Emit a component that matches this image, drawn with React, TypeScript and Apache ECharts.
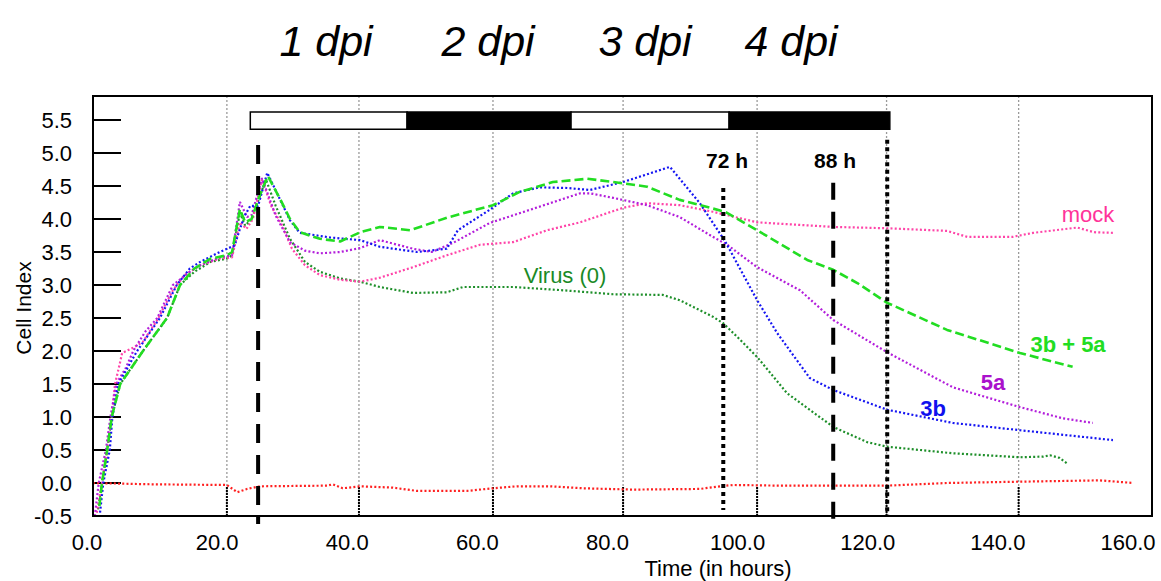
import React, { useEffect, useRef } from "react";
import * as echarts from "echarts";

// ---- data (hours, Cell Index) ----
const mock: [number, number][] = [
  [1.5, -0.45], [2.3, 0.0], [3.2, 0.5], [3.8, 1.0], [4.3, 1.5], [4.9, 1.75], [5.4, 1.97], [7.1, 2.05], [8.6, 2.14],
  [10.8, 2.47], [13.2, 2.92], [15.0, 3.15], [17.4, 3.3], [20.4, 3.4], [22.3, 3.42], [23.5, 3.95], [24.5, 3.85],
  [25.5, 4.0], [26.9, 4.6], [28.3, 4.2], [30.0, 3.9], [31.5, 3.55], [33.5, 3.3], [35.8, 3.15], [38.9, 3.08],
  [42.0, 3.05], [45.0, 3.11], [50.1, 3.27], [55.3, 3.45], [60.4, 3.61], [65.5, 3.65], [70.7, 3.83], [75.8, 3.95],
  [82.4, 4.17], [86.1, 4.24], [91.1, 4.21], [96.2, 4.11], [103.0, 3.95], [114.7, 3.88], [123.0, 3.86],
  [132.2, 3.82], [135.3, 3.73], [142.3, 3.73], [145.4, 3.79], [152.2, 3.87], [154.8, 3.8], [158.0, 3.79],
];
const s5a: [number, number][] = [
  [1.2, -0.5], [1.8, 0.0], [2.9, 0.5], [3.6, 1.0], [4.5, 1.5], [6.0, 1.75], [7.1, 2.0], [9.0, 2.3], [10.8, 2.5],
  [13.2, 3.0], [15.8, 3.2], [17.4, 3.3], [20.4, 3.42], [22.3, 3.45], [23.5, 4.26], [24.6, 4.03], [25.3, 4.06],
  [26.9, 4.62], [29.0, 4.05], [31.2, 3.65], [33.5, 3.52], [35.8, 3.48], [38.9, 3.5], [42.0, 3.56], [45.0, 3.68],
  [50.1, 3.55], [53.0, 3.5], [56.3, 3.64], [61.9, 3.94], [68.1, 4.14], [75.8, 4.39], [77.3, 4.39], [80.9, 4.32],
  [86.1, 4.21], [91.1, 4.03], [96.2, 3.73], [98.4, 3.61], [103.0, 3.27], [109.6, 2.92], [114.7, 2.47],
  [123.0, 1.98], [133.1, 1.45], [143.4, 1.15], [150.0, 0.98], [154.6, 0.91],
];
const s3b: [number, number][] = [
  [2.0, -0.45], [2.5, 0.0], [3.5, 0.5], [3.9, 1.0], [4.8, 1.5], [7.7, 2.0], [11.2, 2.5], [13.8, 3.0], [15.8, 3.25],
  [17.4, 3.35], [20.4, 3.5], [22.7, 3.6], [23.5, 3.85], [24.3, 4.06], [25.1, 4.2], [26.3, 4.2], [27.7, 4.7],
  [29.7, 4.29], [31.2, 3.98], [32.7, 3.79], [37.4, 3.72], [42.0, 3.68], [45.0, 3.58], [50.7, 3.5], [55.3, 3.55],
  [57.0, 3.83], [61.9, 4.14], [65.5, 4.39], [69.6, 4.48], [73.8, 4.47], [77.3, 4.44], [82.4, 4.56], [89.6, 4.79],
  [94.2, 4.24], [98.1, 3.66], [103.0, 2.77], [106.1, 2.27], [111.1, 1.59], [114.7, 1.41], [123.0, 1.11],
  [133.1, 0.91], [143.4, 0.8], [157.7, 0.65],
];
const s3b5a: [number, number][] = [
  [1.9, -0.35], [2.3, 0.0], [3.1, 0.5], [3.8, 1.0], [5.1, 1.5], [8.6, 2.0], [12.3, 2.5], [14.3, 3.0], [16.5, 3.25],
  [19.0, 3.4], [21.5, 3.45], [22.3, 3.5], [23.5, 4.15], [24.3, 3.95], [25.3, 4.0], [26.5, 4.35], [27.8, 4.65],
  [29.7, 4.3], [31.2, 4.0], [32.7, 3.8], [35.8, 3.7], [38.9, 3.66], [42.0, 3.8], [45.0, 3.88], [49.7, 3.83],
  [55.3, 4.02], [62.4, 4.21], [66.5, 4.41], [71.6, 4.56], [76.9, 4.61], [80.9, 4.56], [86.1, 4.49], [91.1, 4.29],
  [98.1, 4.11], [103.0, 3.83], [110.7, 3.38], [114.7, 3.23], [118.4, 3.03], [123.0, 2.73], [132.2, 2.32],
  [143.4, 1.97], [151.5, 1.76],
];
const virus: [number, number][] = [
  [1.7, -0.4], [2.3, 0.0], [3.1, 0.5], [3.8, 1.0], [5.1, 1.5], [8.6, 2.0], [12.3, 2.5], [14.3, 3.0], [16.5, 3.2],
  [19.0, 3.35], [21.5, 3.4], [22.3, 3.45], [23.5, 4.1], [24.3, 3.9], [25.3, 4.0], [27.5, 4.6], [29.0, 4.2],
  [31.2, 3.7], [33.5, 3.35], [35.8, 3.2], [38.9, 3.1], [42.0, 3.05], [45.0, 2.97], [50.1, 2.88], [55.3, 2.89],
  [57.8, 2.97], [65.5, 2.97], [73.2, 2.92], [80.9, 2.86], [88.5, 2.85], [91.1, 2.77], [96.2, 2.52], [97.8, 2.42],
  [100.4, 2.17], [103.0, 1.91], [107.6, 1.36], [114.7, 0.85], [119.9, 0.62], [123.0, 0.55], [133.1, 0.45],
  [143.4, 0.39], [147.0, 0.4], [148.0, 0.42], [149.5, 0.38], [150.6, 0.3],
];
const baseline: [number, number][] = [
  [0.9, 0.0], [10.0, -0.02], [21.5, -0.03], [23.1, -0.14], [24.6, -0.09], [26.6, -0.05], [36.9, -0.04],
  [37.8, -0.02], [39.3, -0.08], [42.0, -0.05], [47.0, -0.07], [50.7, -0.12], [58.4, -0.12], [62.4, -0.08],
  [66.1, -0.05], [71.2, -0.05], [76.2, -0.08], [83.9, -0.1], [94.2, -0.09], [97.3, -0.05], [99.3, -0.03],
  [106.5, -0.04], [123.0, -0.04], [132.2, 0.0], [143.3, 0.02], [155.7, 0.04], [160.8, 0.0],
];

// vertical step lines (hours)
const stepTimes = [21.5, 41.8, 62.4, 82.4, 103.0, 122.9, 143.2];
// marker lines (hours) and their labels
const markerTimes = [26.3, 97.8, 114.7, 123.0];
const markerLabels = ["", "72 h", "88 h", ""];
// day / night bar: [start h, end h, dark?]
const barSegments: [number, number, number][] = [
  [25.1, 49.2, 0], [49.2, 74.4, 1], [74.4, 98.7, 0], [98.7, 123.4, 1],
];
const dpiLabels = ["1 dpi", "2 dpi", "3 dpi", "4 dpi"];
const seriesNames = ["mock", "3b + 5a", "5a", "3b", "Virus (0)"];

// ---- layout / style ----
const FONT = "'Liberation Sans', Arial, Helvetica, sans-serif";
const Y_MIN = -0.5;
const Y_MAX = 5.864;
const markerStyle = [
  { top: 5.12, bottom: -0.62, dash: [19, 12] },
  { top: 4.47, bottom: -0.41, dash: [4, 4] },
  { top: 4.55, bottom: -0.7, dash: [17, 12] },
  { top: 5.2, bottom: -0.5, dash: [4, 3.5] },
];
const dpiX = [326, 488, 645, 791];
const markerLabelX = [0, 727, 835, 0];
const nameLayout = [
  { x: 1088, y: 214, color: "#FF3399", weight: "normal" },
  { x: 1068, y: 344, color: "#22DD22", weight: "bold" },
  { x: 993, y: 382, color: "#AA11CC", weight: "bold" },
  { x: 933, y: 408, color: "#1010EE", weight: "bold" },
  { x: 565, y: 275, color: "#1A8A26", weight: "normal" },
];

export default function App() {
  const ref = useRef<HTMLDivElement>(null);
  useEffect(() => {
    if (!ref.current) return;
    const chart = echarts.init(ref.current, undefined, { renderer: "svg" });

    const dotted = (name: string, data: [number, number][], color: string, dash: number[] = [2, 2.2], width = 2.2) => ({
      name,
      type: "line",
      xAxisIndex: 0,
      yAxisIndex: 0,
      data,
      showSymbol: false,
      symbol: "none",
      z: 2,
      lineStyle: { color, width, type: dash },
    });

    const graphic: any[] = [];
    dpiLabels.forEach((t, i) =>
      graphic.push({
        type: "text",
        x: dpiX[i],
        y: 41,
        style: { text: t, font: `italic 43px ${FONT}`, fill: "#000", align: "center", verticalAlign: "middle" },
      })
    );
    markerLabels.forEach((t, i) => {
      if (!t) return;
      graphic.push({
        type: "text",
        x: markerLabelX[i],
        y: 160,
        style: { text: t, font: `bold 21px ${FONT}`, fill: "#000", align: "center", verticalAlign: "middle" },
      });
    });
    seriesNames.forEach((t, i) => {
      const l = nameLayout[i];
      graphic.push({
        type: "text",
        x: l.x,
        y: l.y,
        z: 10,
        style: { text: t, font: `${l.weight} 22px ${FONT}`, fill: l.color, align: "center", verticalAlign: "middle" },
      });
    });
    graphic.push({
      type: "text",
      x: 23,
      y: 308,
      rotation: Math.PI / 2,
      style: { text: "Cell Index", font: `21px ${FONT}`, fill: "#000", align: "center", verticalAlign: "middle" },
    });
    graphic.push({
      type: "text",
      x: 718,
      y: 568,
      style: { text: "Time (in hours)", font: `22px ${FONT}`, fill: "#000", align: "center", verticalAlign: "middle" },
    });

    chart.setOption({
      animation: false,
      backgroundColor: "#fff",
      textStyle: { fontFamily: FONT },
      grid: [
        { left: 93, top: 96, width: 1059, height: 420, show: true, borderColor: "#000", borderWidth: 2, backgroundColor: "transparent", z: 5 },
        { left: 87, top: 96, width: 1041, height: 420, show: false },
      ],
      xAxis: [
        {
          gridIndex: 0, type: "value", min: 0.92, max: 163.7,
          axisLine: { show: false }, axisTick: { show: false }, axisLabel: { show: false }, splitLine: { show: false },
        },
        {
          gridIndex: 1, type: "value", min: 0, max: 160, interval: 20,
          axisLine: { show: false }, axisTick: { show: false }, splitLine: { show: false },
          axisLabel: { formatter: (v: number) => v.toFixed(1), fontSize: 22, color: "#000", margin: 15, fontFamily: FONT },
        },
      ],
      yAxis: [
        {
          gridIndex: 0, type: "value", min: Y_MIN, max: Y_MAX, interval: 0.5,
          axisLine: { show: false },
          axisTick: { inside: true, length: 28, lineStyle: { color: "#000", width: 2 } },
          axisLabel: { formatter: (v: number) => v.toFixed(1), fontSize: 22, color: "#000", margin: 21, showMaxLabel: false, fontFamily: FONT },
          splitLine: { show: false },
        },
        { gridIndex: 1, type: "value", min: Y_MIN, max: Y_MAX, show: false },
      ],
      graphic,
      series: [
        {
          type: "custom",
          xAxisIndex: 0,
          yAxisIndex: 0,
          z: 1,
          silent: true,
          data: stepTimes.map((t) => [t, Y_MIN]),
          renderItem: (_p: any, api: any) => {
            const t = api.value(0);
            const top = api.coord([t, Y_MAX]);
            const bot = api.coord([t, Y_MIN]);
            const tickTop = api.coord([t, Y_MIN + 0.44]);
            return {
              type: "group",
              children: [
                { type: "line", shape: { x1: top[0], y1: top[1], x2: bot[0], y2: bot[1] }, style: { stroke: "#9a9a9a", lineWidth: 1.3, lineDash: [2, 2] } },
                { type: "line", shape: { x1: bot[0], y1: bot[1], x2: tickTop[0], y2: tickTop[1] }, style: { stroke: "#000", lineWidth: 2, lineDash: [2, 1] } },
              ],
            };
          },
        },
        dotted("baseline", baseline, "#FF2020"),
        dotted(seriesNames[4], virus, "#1E8F2A"),
        dotted(seriesNames[0], mock, "#FF44A8"),
        dotted(seriesNames[2], s5a, "#B31EDB"),
        dotted(seriesNames[3], s3b, "#1515F2"),
        dotted(seriesNames[1], s3b5a, "#22DD22", [9, 4], 2.6),
        {
          type: "custom",
          xAxisIndex: 0,
          yAxisIndex: 0,
          z: 6,
          silent: true,
          data: barSegments,
          renderItem: (_p: any, api: any) => {
            const a = api.coord([api.value(0), 5.62]);
            const b = api.coord([api.value(1), 5.36]);
            const dark = api.value(2) === 1;
            return {
              type: "rect",
              shape: { x: a[0], y: a[1], width: b[0] - a[0], height: b[1] - a[1] },
              style: { fill: dark ? "#000" : "#fff", stroke: "#000", lineWidth: 1.5 },
            };
          },
        },
        {
          type: "custom",
          xAxisIndex: 0,
          yAxisIndex: 0,
          z: 7,
          silent: true,
          data: markerTimes.map((t) => [t, Y_MIN]),
          renderItem: (p: any, api: any) => {
            const t = api.value(0);
            const st = markerStyle[p.dataIndex];
            const a = api.coord([t, st.top]);
            const b = api.coord([t, st.bottom]);
            return {
              type: "line",
              shape: { x1: a[0], y1: a[1], x2: b[0], y2: b[1] },
              style: { stroke: "#000", lineWidth: 4, lineDash: st.dash },
            };
          },
        },
      ],
    });
    return () => chart.dispose();
  }, []);
  return <div ref={ref} style={{ position: "fixed", left: 0, top: 0, width: 1161, height: 581, background: "#fff" }} />;
}
